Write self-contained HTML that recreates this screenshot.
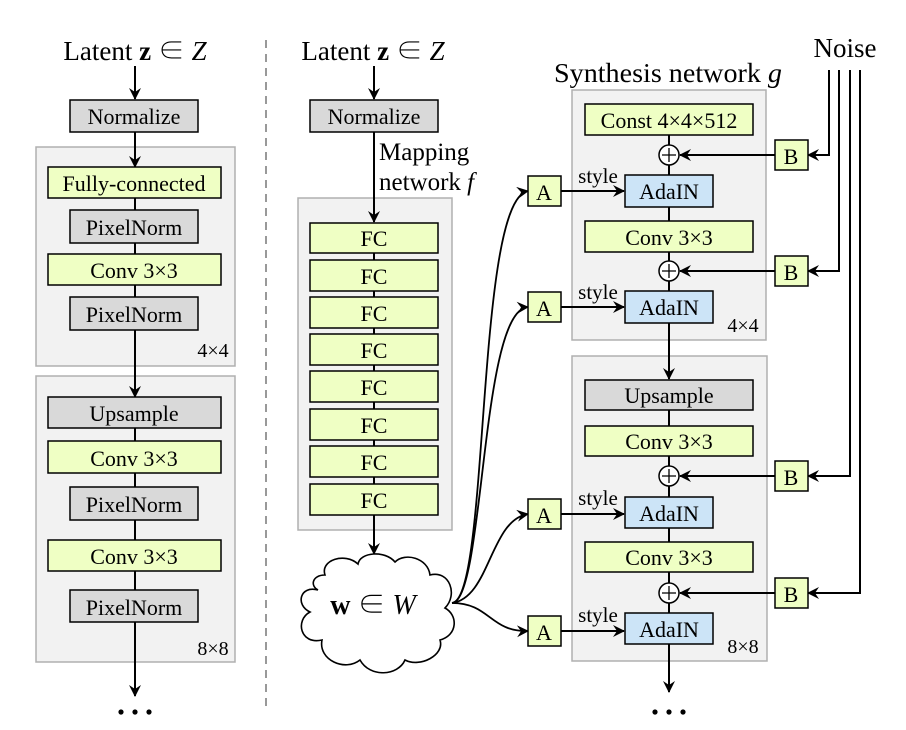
<!DOCTYPE html>
<html><head><meta charset="utf-8"><style>
html,body{margin:0;padding:0;background:#fff;}
svg{display:block;}
svg text{font-family:"Liberation Serif","Times New Roman",Times,"Noto Serif CJK SC","DejaVu Serif",serif;fill:#000;}
</style></head><body>
<svg width="906" height="730" viewBox="0 0 906 730" xmlns="http://www.w3.org/2000/svg">
<defs>
<marker id="ar" viewBox="0 0 12 12" refX="11" refY="6" markerWidth="12" markerHeight="12" markerUnits="userSpaceOnUse" orient="auto">
<path d="M0,0 L12,6 L0,12 L4,6 Z" fill="#000"/>
</marker>
</defs>
<g font-size="22" text-anchor="middle">
<line x1="266" y1="40" x2="266" y2="712" stroke="#999" stroke-width="2" stroke-dasharray="8,6"/>

<!-- LEFT -->
<text x="135" y="60" font-size="27">Latent  <tspan font-weight="bold">z</tspan> ∈ <tspan font-style="italic">Z</tspan></text>
<line x1="135" y1="66" x2="135" y2="99" stroke="#000" stroke-width="2" marker-end="url(#ar)"/>
<rect x="70" y="100" width="128" height="32" fill="#d9d9d9" stroke="#000" stroke-width="1.5"/>
<text x="134" y="124">Normalize</text>
<rect x="36" y="147" width="199" height="219" fill="#f2f2f2" stroke="#b0b0b0" stroke-width="1.5"/>
<line x1="135" y1="132" x2="135" y2="167" stroke="#000" stroke-width="2" marker-end="url(#ar)"/>
<line x1="135" y1="198" x2="135" y2="376" stroke="#000" stroke-width="2"/>
<rect x="48" y="167" width="173" height="31" fill="#efffc4" stroke="#000" stroke-width="1.5"/>
<text x="134" y="191">Fully-connected</text>
<rect x="70" y="210" width="128" height="33" fill="#d9d9d9" stroke="#000" stroke-width="1.5"/>
<text x="134" y="235">PixelNorm</text>
<rect x="48" y="254" width="173" height="31" fill="#efffc4" stroke="#000" stroke-width="1.5"/>
<text x="134" y="278">Conv 3×3</text>
<rect x="70" y="297" width="128" height="33" fill="#d9d9d9" stroke="#000" stroke-width="1.5"/>
<text x="134" y="322">PixelNorm</text>
<text x="213" y="357" font-size="20">4×4</text>

<rect x="36" y="376" width="199" height="286" fill="#f2f2f2" stroke="#b0b0b0" stroke-width="1.5"/>
<line x1="135" y1="366" x2="135" y2="397" stroke="#000" stroke-width="2" marker-end="url(#ar)"/>
<line x1="135" y1="428" x2="135" y2="590" stroke="#000" stroke-width="2"/>
<line x1="135" y1="622" x2="135" y2="696" stroke="#000" stroke-width="2" marker-end="url(#ar)"/>
<rect x="48" y="397" width="173" height="31" fill="#d9d9d9" stroke="#000" stroke-width="1.5"/>
<text x="134" y="421">Upsample</text>
<rect x="48" y="441" width="173" height="32" fill="#efffc4" stroke="#000" stroke-width="1.5"/>
<text x="134" y="466">Conv 3×3</text>
<rect x="70" y="487" width="128" height="33" fill="#d9d9d9" stroke="#000" stroke-width="1.5"/>
<text x="134" y="512">PixelNorm</text>
<rect x="48" y="540" width="173" height="31" fill="#efffc4" stroke="#000" stroke-width="1.5"/>
<text x="134" y="564">Conv 3×3</text>
<rect x="70" y="590" width="128" height="32" fill="#d9d9d9" stroke="#000" stroke-width="1.5"/>
<text x="134" y="615">PixelNorm</text>
<text x="213" y="655" font-size="20">8×8</text>
<g fill="#000"><circle cx="121" cy="712" r="2.6"/><circle cx="135" cy="712" r="2.6"/><circle cx="149" cy="712" r="2.6"/></g>

<!-- MIDDLE -->
<text x="373" y="60" font-size="27">Latent  <tspan font-weight="bold">z</tspan> ∈ <tspan font-style="italic">Z</tspan></text>
<line x1="374" y1="66" x2="374" y2="99" stroke="#000" stroke-width="2" marker-end="url(#ar)"/>
<rect x="310" y="100" width="128" height="32" fill="#d9d9d9" stroke="#000" stroke-width="1.5"/>
<text x="374" y="124">Normalize</text>
<text x="379" y="160" font-size="25" text-anchor="start">Mapping</text>
<text x="379" y="190" font-size="25" text-anchor="start">network <tspan font-style="italic">f</tspan></text>
<rect x="298" y="198" width="154" height="332" fill="#f2f2f2" stroke="#b0b0b0" stroke-width="1.5"/>
<line x1="374" y1="132" x2="374" y2="222" stroke="#000" stroke-width="2" marker-end="url(#ar)"/>
<line x1="374" y1="253" x2="374" y2="484" stroke="#000" stroke-width="2"/>
<line x1="374" y1="515" x2="374" y2="554" stroke="#000" stroke-width="2" marker-end="url(#ar)"/>
<g>
<rect x="310" y="223" width="128" height="30" fill="#efffc4" stroke="#000" stroke-width="1.5"/><text x="374" y="246">FC</text>
<rect x="310" y="260" width="128" height="31" fill="#efffc4" stroke="#000" stroke-width="1.5"/><text x="374" y="284">FC</text>
<rect x="310" y="297" width="128" height="31" fill="#efffc4" stroke="#000" stroke-width="1.5"/><text x="374" y="321">FC</text>
<rect x="310" y="334" width="128" height="31" fill="#efffc4" stroke="#000" stroke-width="1.5"/><text x="374" y="358">FC</text>
<rect x="310" y="371" width="128" height="31" fill="#efffc4" stroke="#000" stroke-width="1.5"/><text x="374" y="395">FC</text>
<rect x="310" y="409" width="128" height="31" fill="#efffc4" stroke="#000" stroke-width="1.5"/><text x="374" y="433">FC</text>
<rect x="310" y="446" width="128" height="31" fill="#efffc4" stroke="#000" stroke-width="1.5"/><text x="374" y="470">FC</text>
<rect x="310" y="484" width="128" height="31" fill="#efffc4" stroke="#000" stroke-width="1.5"/><text x="374" y="508">FC</text>
</g>
<path d="M318,590 C300,585 295,605 310,612 C295,620 300,645 322,640 C318,660 345,672 360,660 C370,678 398,676 405,660 C420,668 445,655 440,640 C458,635 458,615 445,608 C458,595 450,570 430,575 C428,558 405,552 395,562 C385,550 360,552 358,564 C345,552 320,560 325,575 C312,575 310,586 318,590 Z" fill="#fff" stroke="#000" stroke-width="1.6"/>
<text x="373" y="614" font-size="28"><tspan font-weight="bold">w</tspan> ∈ <tspan font-style="italic">W</tspan></text>

<g fill="none" stroke="#000" stroke-width="1.8">
<path d="M452,603 C490,600 475,200 528,191" marker-end="url(#ar)"/>
<path d="M452,603 C485,600 480,310 528,307" marker-end="url(#ar)"/>
<path d="M452,603 C490,598 490,520 528,514" marker-end="url(#ar)"/>
<path d="M452,603 C490,603 490,632 528,631" marker-end="url(#ar)"/>
</g>

<!-- RIGHT -->
<text x="554" y="82" font-size="27" text-anchor="start" textLength="228" lengthAdjust="spacingAndGlyphs">Synthesis network <tspan font-style="italic">g</tspan></text>
<text x="845" y="57" font-size="27">Noise</text>
<rect x="572" y="90" width="194" height="250" fill="#f2f2f2" stroke="#b0b0b0" stroke-width="1.5"/>
<rect x="572" y="356" width="195" height="305" fill="#f2f2f2" stroke="#b0b0b0" stroke-width="1.5"/>
<g stroke="#000" stroke-width="2" fill="none">
<line x1="669" y1="135" x2="669" y2="175"/>
<line x1="669" y1="207" x2="669" y2="291"/>
<line x1="669" y1="323" x2="669" y2="379" marker-end="url(#ar)"/>
<line x1="669" y1="410" x2="669" y2="497"/>
<line x1="669" y1="528" x2="669" y2="613"/>
<line x1="669" y1="644" x2="669" y2="692" marker-end="url(#ar)"/>
<polyline points="829,70 829,155 808,155" marker-end="url(#ar)"/>
<polyline points="839,70 839,271 808,271" marker-end="url(#ar)"/>
<polyline points="850,70 850,476 808,476" marker-end="url(#ar)"/>
<polyline points="860,70 860,593 808,593" marker-end="url(#ar)"/>
<line x1="775" y1="155" x2="680" y2="155" marker-end="url(#ar)"/>
<line x1="775" y1="271" x2="680" y2="271" marker-end="url(#ar)"/>
<line x1="775" y1="476" x2="680" y2="476" marker-end="url(#ar)"/>
<line x1="775" y1="593" x2="680" y2="593" marker-end="url(#ar)"/>
<line x1="561" y1="191" x2="624" y2="191" marker-end="url(#ar)"/>
<line x1="561" y1="307" x2="624" y2="307" marker-end="url(#ar)"/>
<line x1="561" y1="514" x2="624" y2="514" marker-end="url(#ar)"/>
<line x1="561" y1="631" x2="624" y2="631" marker-end="url(#ar)"/>
</g>
<rect x="585" y="104" width="168" height="31" fill="#efffc4" stroke="#000" stroke-width="1.5"/>
<text x="669" y="128">Const 4×4×512</text>
<rect x="625" y="175" width="88" height="32" fill="#cce4f7" stroke="#000" stroke-width="1.5"/><text x="669" y="199">AdaIN</text>
<rect x="585" y="221" width="168" height="31" fill="#efffc4" stroke="#000" stroke-width="1.5"/><text x="669" y="245">Conv 3×3</text>
<rect x="625" y="291" width="88" height="32" fill="#cce4f7" stroke="#000" stroke-width="1.5"/><text x="669" y="315">AdaIN</text>
<text x="743" y="332" font-size="20">4×4</text>
<rect x="585" y="380" width="168" height="30" fill="#d9d9d9" stroke="#000" stroke-width="1.5"/><text x="669" y="403">Upsample</text>
<rect x="585" y="426" width="168" height="30" fill="#efffc4" stroke="#000" stroke-width="1.5"/><text x="669" y="449">Conv 3×3</text>
<rect x="625" y="497" width="88" height="31" fill="#cce4f7" stroke="#000" stroke-width="1.5"/><text x="669" y="521">AdaIN</text>
<rect x="585" y="542" width="168" height="30" fill="#efffc4" stroke="#000" stroke-width="1.5"/><text x="669" y="565">Conv 3×3</text>
<rect x="625" y="613" width="88" height="31" fill="#cce4f7" stroke="#000" stroke-width="1.5"/><text x="669" y="637">AdaIN</text>
<text x="743" y="653" font-size="20">8×8</text>
<g fill="#fff" stroke="#000" stroke-width="1.5">
<circle cx="669" cy="155" r="10"/><circle cx="669" cy="271" r="10"/><circle cx="669" cy="476" r="10"/><circle cx="669" cy="593" r="10"/>
</g>
<g stroke="#000" stroke-width="1.3">
<path d="M662,155 H676 M669,148 V162"/><path d="M662,271 H676 M669,264 V278"/><path d="M662,476 H676 M669,469 V483"/><path d="M662,593 H676 M669,586 V600"/>
</g>
<g fill="#efffc4" stroke="#000" stroke-width="1.5">
<rect x="775" y="140" width="33" height="30"/><rect x="775" y="256" width="33" height="30"/><rect x="775" y="461" width="33" height="30"/><rect x="775" y="578" width="33" height="30"/>
<rect x="528" y="176" width="33" height="30"/><rect x="528" y="292" width="33" height="30"/><rect x="528" y="499" width="33" height="30"/><rect x="528" y="616" width="33" height="30"/>
</g>
<text x="791" y="164">B</text><text x="791" y="280">B</text><text x="791" y="485">B</text><text x="791" y="602">B</text>
<text x="544" y="200">A</text><text x="544" y="316">A</text><text x="544" y="523">A</text><text x="544" y="640">A</text>
<text x="598" y="183" font-size="21">style</text><text x="598" y="299" font-size="21">style</text>
<text x="598" y="505" font-size="21">style</text><text x="598" y="622" font-size="21">style</text>
<g fill="#000"><circle cx="655" cy="712" r="2.6"/><circle cx="669" cy="712" r="2.6"/><circle cx="683" cy="712" r="2.6"/></g>
</g>
</svg>
</body></html>
